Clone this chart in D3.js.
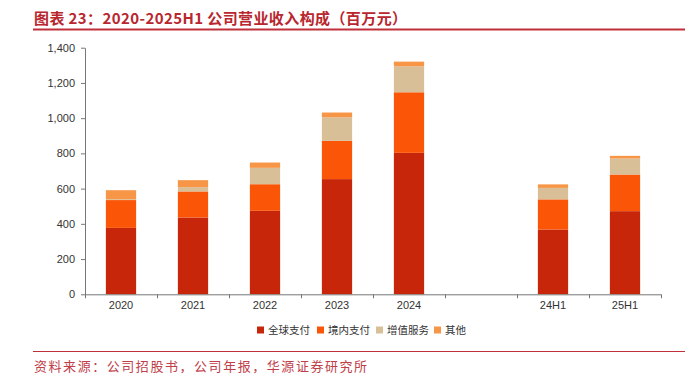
<!DOCTYPE html>
<html><head><meta charset="utf-8">
<script src="https://cdn.jsdelivr.net/npm/d3@7"></script>
<style>
body{margin:0;background:#fff;}
svg{display:block;}
</style></head>
<body>
<svg id="c" width="698" height="383"></svg>
<script>
const categories = ["2020","2021","2022","2023","2024","","24H1","25H1"];
const seriesNames = ["全球支付","境内支付","增值服务","其他"];
const globalPay = [377, 436, 474, 654, 803, null, 368, 472];
const domesticPay = [158, 148, 151, 217, 344, null, 171, 208];
const valueAdded = [5, 24, 93, 134, 147, null, 65, 91];
const otherRev = [51, 40, 30, 27, 27, null, 20, 15];
const yTicks = [0,200,400,600,800,1000,1200,1400];
const colors = ["#c8260a","#fb5607","#d9bf98","#f79646"];
const titleText = "图表 23：2020-2025H1 公司营业收入构成（百万元）";
const sourceText = "资料来源：公司招股书，公司年报，华源证券研究所";

(function(){
const svg = d3.select("#c");
const red = "#b8262e";
const CJK = "'Noto Sans CJK SC','Noto Sans',sans-serif";
const LAT = "'Liberation Sans',Arial,sans-serif";

// title
svg.append("text").attr("x",34).attr("y",24).attr("fill",red)
  .attr("font-family",CJK).attr("font-weight","bold").attr("font-size",15).attr("letter-spacing",0.4)
  .text(titleText);
svg.append("line").attr("x1",33).attr("x2",685).attr("y1",29.5).attr("y2",29.5)
  .attr("stroke","#c0303a").attr("stroke-width",2);
// source
svg.append("line").attr("x1",33).attr("x2",685).attr("y1",351.5).attr("y2",351.5)
  .attr("stroke","#c0303a").attr("stroke-width",1.2);
svg.append("text").attr("x",34).attr("y",371).attr("fill","#c0404a")
  .attr("font-family",CJK).attr("font-size",13).attr("letter-spacing",1.55)
  .text(sourceText);

const pl = 85, pr = 661, pt = 47.7, pb = 294.3;
const x = d3.scaleBand().domain(categories).range([pl,pr]).paddingInner(0.58).paddingOuter(0.29);
const xb = d3.scaleLinear().domain([0,categories.length]).range([pl,pr]);
const y = d3.scaleLinear().domain([0,1400]).range([pb,pt]);

const rows = categories.map((c,i)=>({cat:c, s0:globalPay[i], s1:domesticPay[i], s2:valueAdded[i], s3:otherRev[i]}));
const stack = d3.stack().keys(["s0","s1","s2","s3"]).value((d,k)=>d[k]==null?0:d[k]);
const layers = stack(rows.filter(r=>r.s0!=null));

svg.append("g").selectAll("g").data(layers).join("g")
  .attr("fill",(d,i)=>colors[i])
  .selectAll("rect").data(d=>d).join("rect")
  .attr("x",d=>x(d.data.cat)).attr("width",x.bandwidth())
  .attr("y",d=>y(d[1])).attr("height",d=>Math.max(0,y(d[0])-y(d[1])));

// y axis
const yAxis = svg.append("g").attr("transform",`translate(${pl},0)`)
  .call(d3.axisLeft(y).tickValues(yTicks).tickFormat(d3.format(",")).tickSize(4).tickSizeOuter(0));
yAxis.select(".domain").attr("stroke","#777");
yAxis.selectAll(".tick line").attr("stroke","#777");
yAxis.selectAll("text").attr("font-family",LAT).attr("font-size",11).attr("fill","#333").attr("x",-10);

// x axis
const xAxis = svg.append("g").attr("transform",`translate(0,${pb})`)
  .call(d3.axisBottom(x).tickSize(0).tickSizeOuter(0));
xAxis.select(".domain").remove();
xAxis.selectAll("text").attr("font-family",LAT).attr("font-size",11).attr("fill","#333").attr("dy","1.1em");
svg.append("line").attr("x1",pl).attr("x2",pr).attr("y1",pb+0.5).attr("y2",pb+0.5).attr("stroke","#777");
svg.append("g").selectAll("line").data(d3.range(categories.length+1)).join("line")
  .attr("x1",d=>xb(d)+0.5).attr("x2",d=>xb(d)+0.5).attr("y1",pb).attr("y2",pb+4).attr("stroke","#777");

// legend
const legX = [257,317,376,434];
const lg = svg.append("g").selectAll("g").data(seriesNames).join("g")
  .attr("transform",(d,i)=>`translate(${legX[i]},330)`);
lg.append("rect").attr("x",0).attr("y",-3.5).attr("width",7).attr("height",7).attr("fill",(d,i)=>colors[i]);
lg.append("text").attr("x",11).attr("y",4).attr("font-family",CJK).attr("font-size",10.5).attr("fill","#333").text(d=>d);
})();
</script>
</body></html>
